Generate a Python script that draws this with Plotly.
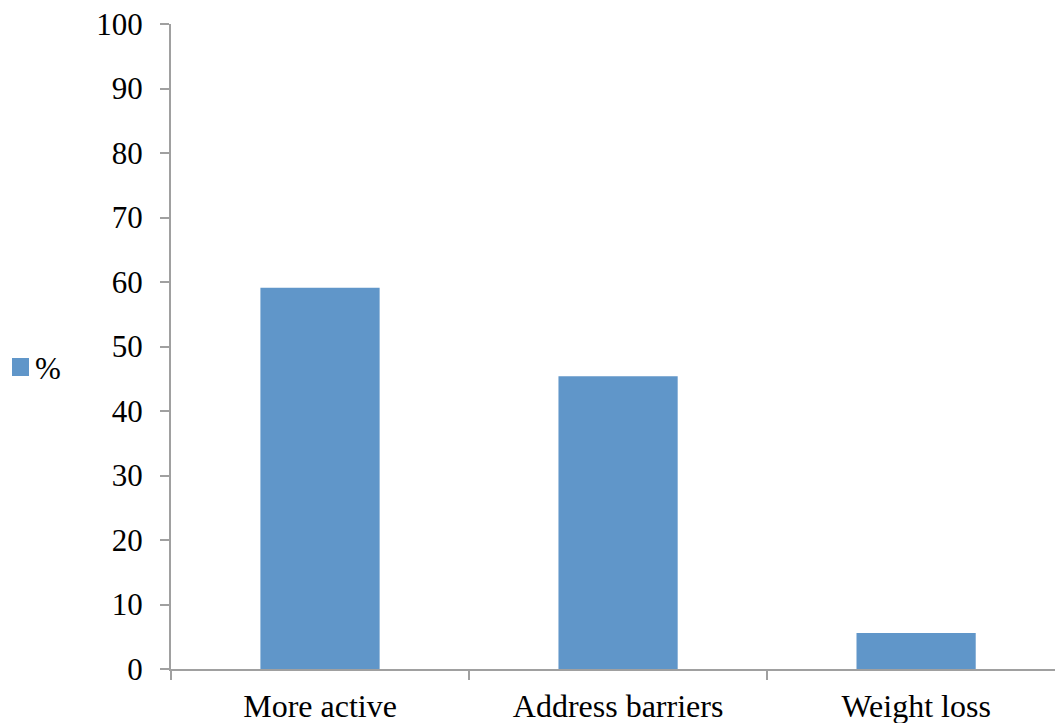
import plotly.graph_objects as go

categories = ["More active", "Address barriers", "Weight loss"]
percent = [59.1, 45.4, 5.6]
y_ticks = [0, 10, 20, 30, 40, 50, 60, 70, 80, 90, 100]
series_name = "%"

BAR_COLOR = "#6096C9"
AXIS_COLOR = "#A0A0A0"
SERIF = "'Times New Roman', 'Liberation Serif', 'DejaVu Serif', serif"
FONT = dict(family=SERIF, size=31, color="#000000")
X_FONT = dict(family=SERIF, size=32, color="#000000")

fig = go.Figure()
fig.add_trace(go.Bar(
    x=categories,
    y=percent,
    name=series_name,
    marker=dict(color=BAR_COLOR, line=dict(width=0)),
    width=0.4,
    showlegend=False,
))

fig.update_layout(
    template="none",
    width=1055,
    height=723,
    margin=dict(l=171, r=0, t=24, b=54),
    paper_bgcolor="white",
    plot_bgcolor="white",
    font=FONT,
    xaxis=dict(
        type="category",
        range=[-0.5, 2.466],
        automargin=False,
        showline=True,
        linecolor=AXIS_COLOR,
        linewidth=2,
        ticks="outside",
        tickson="boundaries",
        ticklen=9,
        tickwidth=2,
        tickcolor=AXIS_COLOR,
        showgrid=False,
        zeroline=False,
        tickfont=X_FONT,
        ticklabelstandoff=8,
    ),
    yaxis=dict(
        range=[0, 100],
        automargin=False,
        tickvals=y_ticks,
        ticktext=[str(v) for v in y_ticks],
        showline=True,
        linecolor=AXIS_COLOR,
        linewidth=2,
        ticks="outside",
        ticklen=9,
        tickwidth=2,
        tickcolor=AXIS_COLOR,
        showgrid=False,
        zeroline=False,
        tickfont=FONT,
        ticklabelstandoff=11,
    ),
)

# Series key drawn at the left edge: a swatch and the series name
fig.add_shape(
    type="rect", xref="paper", yref="paper",
    x0=(12 - 171) / 884, x1=(29 - 171) / 884,
    y0=(669 - 376) / 645, y1=(669 - 358) / 645,
    fillcolor=BAR_COLOR, line=dict(width=0),
)
fig.add_annotation(
    xref="paper", yref="paper",
    x=(33 - 171) / 884, y=(669 - 368) / 645,
    xanchor="left", yanchor="middle",
    text=series_name, showarrow=False, font=FONT,
)

fig.write_html("out.html")
